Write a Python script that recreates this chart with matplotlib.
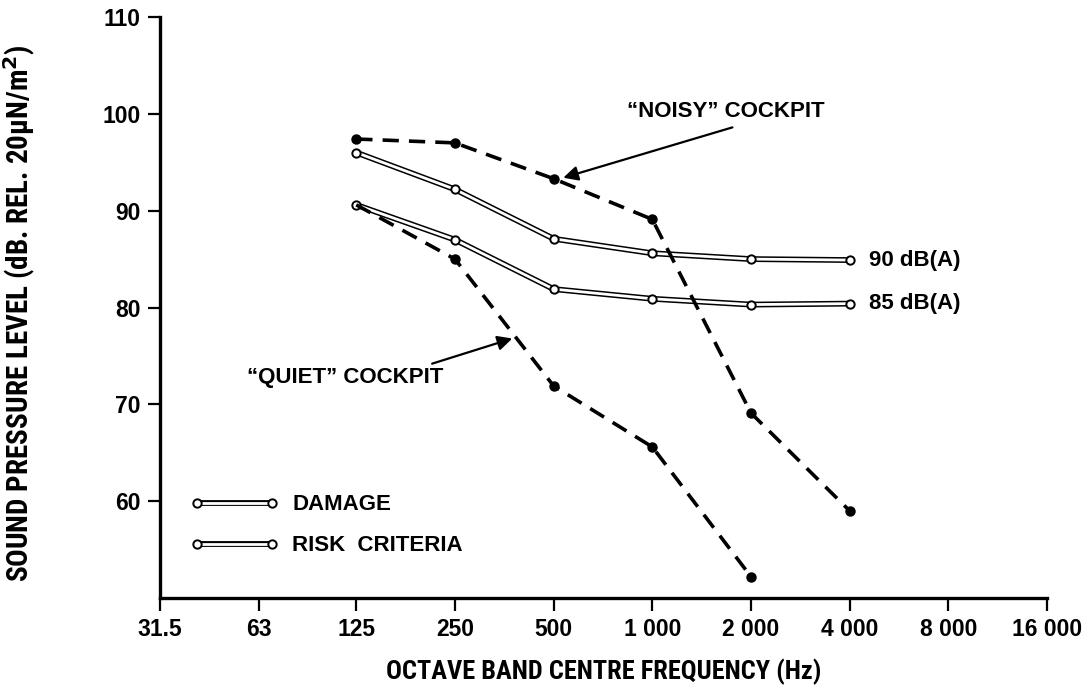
import matplotlib
matplotlib.use("Agg")
import matplotlib.pyplot as plt
from matplotlib import font_manager as fm
from matplotlib.lines import Line2D
from matplotlib.legend_handler import HandlerTuple
from matplotlib.ticker import FixedLocator, NullLocator

# octave band centre frequencies (Hz)
tick_freqs = [31.5, 63, 125, 250, 500, 1000, 2000, 4000, 8000, 16000]
tick_labels = ["31.5", "63", "125", "250", "500", "1 000", "2 000", "4 000", "8 000", "16 000"]
y_ticks = [60, 70, 80, 90, 100, 110]

freqs = [125, 250, 500, 1000, 2000, 4000]
noisy = [97.4, 97.0, 93.3, 89.1, 69.1, 59.0]          # "noisy" cockpit
quiet_freqs = [125, 250, 500, 1000, 2000]
quiet = [90.6, 85.0, 71.9, 65.6, 52.2]                # "quiet" cockpit
damage_90 = [96.0, 92.2, 87.1, 85.6, 85.0, 84.9]      # 90 dB(A) damage
risk_85 = [90.6, 87.0, 81.9, 80.9, 80.3, 80.4]        # 85 dB(A) risk criteria

plt.rcParams["font.family"] = ["Liberation Sans", "DejaVu Sans"]

# condensed face for the axis titles
names = {f.name for f in fm.fontManager.ttflist}
cond = next((n for n in ["Liberation Sans Narrow", "DejaVu Sans Condensed",
                         "Roboto Condensed", "Open Sans Condensed"] if n in names), None)
if cond:
    cond_kw = dict(family=cond, weight="bold")
else:
    cond_kw = dict(family="DejaVu Sans", stretch="condensed", weight="bold")

fig = plt.figure(figsize=(10.9, 6.88), dpi=100)
ax = fig.add_axes([0.1468, 0.1308, 0.8138, 0.8445])

# double-line criteria curves
for vals in (damage_90, risk_85):
    ax.plot(freqs, vals, color="black", lw=4.2, solid_capstyle="butt", zorder=2)
    ax.plot(freqs, vals, color="white", lw=2.0, solid_capstyle="butt", zorder=3)
    ax.plot(freqs, vals, ls="none", marker="o", ms=6, mfc="white", mec="black",
            mew=1.4, zorder=4)

# cockpit spectra
ax.plot(freqs, noisy, color="black", lw=2.6, dashes=(4.5, 2.8), marker="o",
        ms=6.5, zorder=5)
ax.plot(quiet_freqs, quiet, color="black", lw=2.6, dashes=(4.5, 2.8), marker="o",
        ms=6.5, markevery=list(range(1, len(quiet))), zorder=5)

txt_kw = dict(fontsize=16, weight="bold")
ax.annotate("90 dB(A)", xy=(freqs[-1], damage_90[-1]), xytext=(14, 0),
            textcoords="offset points", va="center", ha="left", **txt_kw)
ax.annotate("85 dB(A)", xy=(freqs[-1], risk_85[-1]), xytext=(14, 0),
            textcoords="offset points", va="center", ha="left", **txt_kw)

ax.text(1673, 100.2, "\u201cNOISY\u201d COCKPIT", ha="center", va="center", **txt_kw)
ax.annotate("", xy=(535, 93.4), xytext=(1755, 98.6),
            arrowprops=dict(arrowstyle="-|>", color="black", lw=1.6,
                            mutation_scale=22, shrinkA=0, shrinkB=0))
ax.text(115.6, 72.8, "\u201cQUIET\u201d COCKPIT", ha="center", va="center", **txt_kw)
ax.annotate("", xy=(374, 76.8), xytext=(213, 74.2),
            arrowprops=dict(arrowstyle="-|>", color="black", lw=1.6,
                            mutation_scale=22, shrinkA=0, shrinkB=0))

# legend: double line with open circles at both ends
dbl = (Line2D([], [], color="black", lw=4.2, solid_capstyle="butt"),
       Line2D([], [], color="white", lw=2.0, solid_capstyle="butt"),
       Line2D([], [], ls="none", marker="o", ms=6, mfc="white", mec="black", mew=1.4))
leg = ax.legend([dbl, dbl], ["DAMAGE", "RISK  CRITERIA"],
                handler_map={tuple: HandlerTuple(ndivide=1)},
                numpoints=2, loc="center left", bbox_to_anchor=(0.034, 0.125),
                frameon=False, handlelength=4.0, handletextpad=0.6,
                labelspacing=0.9, borderpad=0, borderaxespad=0,
                prop=dict(size=16, weight="bold"))

# axes
ax.set_xscale("log", base=2)
ax.set_xlim(31.5, 16000)
ax.set_ylim(50, 110)
ax.xaxis.set_major_locator(FixedLocator(tick_freqs))
ax.xaxis.set_minor_locator(NullLocator())
ax.set_xticklabels(tick_labels)
ax.set_yticks(y_ticks)

for s in ("top", "right"):
    ax.spines[s].set_visible(False)
for s in ("left", "bottom"):
    ax.spines[s].set_linewidth(2.4)

ax.tick_params(axis="x", direction="out", length=9.5, width=1.6, pad=5,
               labelsize=16.5)
ax.tick_params(axis="y", direction="out", length=9, width=1.6, pad=5,
               labelsize=16.5)
for lab in ax.get_xticklabels() + ax.get_yticklabels():
    lab.set_fontweight("bold")

ax.set_xlabel("OCTAVE BAND CENTRE FREQUENCY (Hz)", fontsize=19, **cond_kw)
ax.set_ylabel("SOUND PRESSURE LEVEL (dB. REL. 20\u03bcN/m$^\\mathbf{2}$)", fontsize=21, **cond_kw)
ax.xaxis.set_label_coords(0.5, -0.104)
ax.yaxis.set_label_coords(-0.137, 0.49)

fig.savefig("out.png", dpi=100)
